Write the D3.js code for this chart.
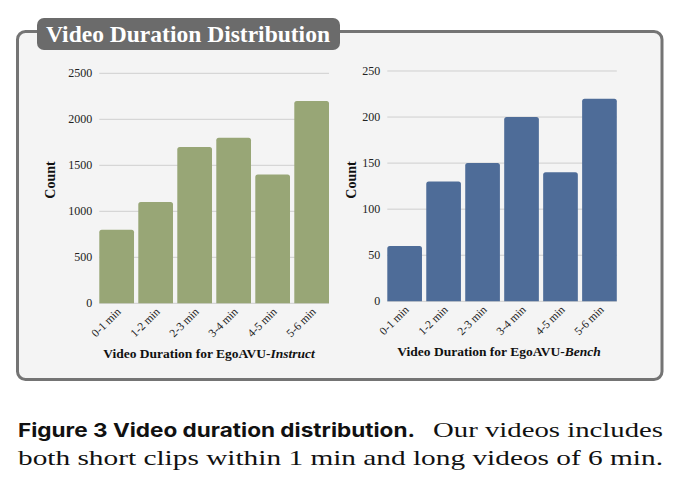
<!DOCTYPE html>
<html>
<head>
<meta charset="utf-8">
<script src="https://cdn.jsdelivr.net/npm/d3@7"></script>
<style>
  body { margin: 0; background: #fff; }
  svg { display: block; }
</style>
</head>
<body>
<script>
// data
const categories = ['0-1 min', '1-2 min', '2-3 min', '3-4 min', '4-5 min', '5-6 min']
const instructCounts = [800, 1100, 1700, 1800, 1400, 2200]
const benchCounts = [60, 130, 150, 200, 140, 220]
const instructTicks = [0, 500, 1000, 1500, 2000, 2500]
const benchTicks = [0, 50, 100, 150, 200, 250]

const width = 681
const height = 490
const serif = '"Liberation Serif", "Times New Roman", serif'

const svg = d3.select('body').append('svg')
  .attr('width', width)
  .attr('height', height)

// panel
svg.append('rect')
  .attr('x', 17.5).attr('y', 31.5)
  .attr('width', 644.5).attr('height', 348)
  .attr('rx', 8)
  .attr('fill', '#f4f4f4')
  .attr('stroke', '#747474')
  .attr('stroke-width', 3)

// title tab
svg.append('rect')
  .attr('x', 37).attr('y', 18)
  .attr('width', 303).attr('height', 32)
  .attr('rx', 7)
  .attr('fill', '#6b6b6b')

svg.append('text')
  .attr('x', 46).attr('y', 41.5)
  .attr('font-family', serif)
  .attr('font-weight', 'bold')
  .attr('font-size', 23)
  .attr('fill', '#fff')
  .attr('textLength', 284)
  .attr('lengthAdjust', 'spacingAndGlyphs')
  .text('Video Duration Distribution')

// one bar chart panel
function drawChart (opts) {
  const g = svg.append('g')

  const x = d3.scaleBand()
    .domain(categories)
    .range(opts.xRange)
    .paddingInner(0.11)
    .paddingOuter(0)

  const y = d3.scaleLinear()
    .domain([0, opts.ticks[opts.ticks.length - 1]])
    .range(opts.yRange)

  // gridlines
  g.selectAll('.grid')
    .data(opts.ticks)
    .join('line')
    .attr('x1', opts.xRange[0])
    .attr('x2', opts.xRange[1])
    .attr('y1', d => y(d))
    .attr('y2', d => y(d))
    .attr('stroke', '#cfcfcf')
    .attr('stroke-width', 1)

  // y tick labels
  g.selectAll('.ytick')
    .data(opts.ticks)
    .join('text')
    .attr('x', opts.xRange[0] - 7)
    .attr('y', d => y(d) + 4)
    .attr('text-anchor', 'end')
    .attr('font-family', serif)
    .attr('font-size', 12)
    .attr('fill', '#222')
    .text(d => d)

  // bars with slightly rounded tops
  const r = 2.5
  g.selectAll('.bar')
    .data(opts.values)
    .join('path')
    .attr('fill', opts.color)
    .attr('d', (d, i) => {
      const x0 = x(categories[i])
      const x1 = x0 + x.bandwidth()
      const y0 = y(0)
      const y1 = y(d)
      return `M${x0},${y0}V${y1 + r}Q${x0},${y1} ${x0 + r},${y1}H${x1 - r}Q${x1},${y1} ${x1},${y1 + r}V${y0}Z`
    })

  // x tick labels, rotated
  g.selectAll('.xtick')
    .data(categories)
    .join('text')
    .attr('transform', d => `translate(${x(d) + x.bandwidth() / 2 + 5},${y(0) + 9}) rotate(-45)`)
    .attr('text-anchor', 'end')
    .attr('font-family', serif)
    .attr('font-size', 11.5)
    .attr('fill', '#222')
    .text(d => d)

  // y axis title
  g.append('text')
    .attr('transform', `translate(${opts.countX},180) rotate(-90)`)
    .attr('text-anchor', 'middle')
    .attr('font-family', serif)
    .attr('font-weight', 'bold')
    .attr('font-size', 14)
    .attr('fill', '#111')
    .text('Count')

  // x axis title
  const t = g.append('text')
    .attr('x', opts.titleX)
    .attr('y', opts.titleY)
    .attr('text-anchor', 'middle')
    .attr('font-family', serif)
    .attr('font-weight', 'bold')
    .attr('font-size', 13.5)
    .attr('fill', '#111')
  t.append('tspan').text('Video Duration for EgoAVU-')
  t.append('tspan').attr('font-style', 'italic').text(opts.suffix)
}

drawChart({
  values: instructCounts,
  ticks: instructTicks,
  xRange: [99.3, 329],
  yRange: [303.3, 73.3],
  color: '#98a676',
  countX: 55,
  titleX: 209,
  titleY: 358,
  suffix: 'Instruct'
})

drawChart({
  values: benchCounts,
  ticks: benchTicks,
  xRange: [387.3, 616.8],
  yRange: [301.3, 71],
  color: '#4e6c98',
  countX: 356,
  titleX: 499,
  titleY: 356,
  suffix: 'Bench'
})

// caption
svg.append('text')
  .attr('x', 18).attr('y', 436.5)
  .attr('font-family', 'Inter, "Open Sans", sans-serif')
  .attr('font-weight', 'bold')
  .attr('font-size', 19)
  .attr('fill', '#111')
  .attr('textLength', 397)
  .attr('lengthAdjust', 'spacingAndGlyphs')
  .text('Figure 3  Video duration distribution.')

svg.append('text')
  .attr('x', 433).attr('y', 436.5)
  .attr('font-family', serif)
  .attr('font-size', 22)
  .attr('fill', '#111')
  .attr('textLength', 230)
  .attr('lengthAdjust', 'spacingAndGlyphs')
  .text('Our videos includes')

svg.append('text')
  .attr('x', 18).attr('y', 465)
  .attr('font-family', serif)
  .attr('font-size', 22)
  .attr('fill', '#111')
  .attr('textLength', 645)
  .attr('lengthAdjust', 'spacingAndGlyphs')
  .text('both short clips within 1 min and long videos of 6 min.')
</script>
</body>
</html>
